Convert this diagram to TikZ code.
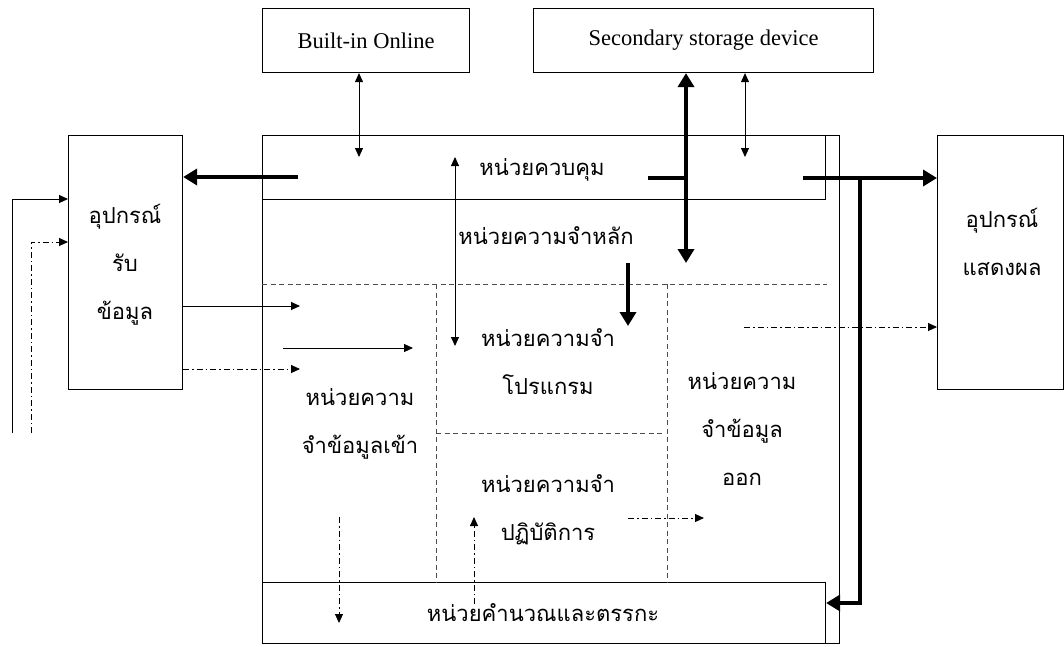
\documentclass[tikz,border=0pt]{standalone}
\usepackage{fontspec}
\setmainfont{Liberation Serif}
\newfontfamily\thai[Script=Thai]{Loma}
\usetikzlibrary{arrows.meta}
\begin{document}
\begin{tikzpicture}[x=1pt,y=-1pt,
  box/.style={draw, line width=1.1pt, inner sep=0pt, anchor=north west},
  th/.style={font=\thai\fontsize{22}{48}\selectfont, align=center, inner sep=0pt},
  en/.style={font=\fontsize{22.5}{26}\selectfont, inner sep=0pt},
  thinline/.style={line width=0.9pt},
  thinarrow/.style={line width=0.9pt, -{Triangle[length=9pt,width=8pt]}},
  thinboth/.style={line width=0.9pt, {Triangle[length=9pt,width=8pt]}-{Triangle[length=9pt,width=8pt]}},
  fatline/.style={line width=4.5pt},
  fatarrow/.style={line width=4.5pt, -{Triangle[length=14pt,width=16pt]}},
  fatboth/.style={line width=4.5pt, {Triangle[length=14pt,width=16pt]}-{Triangle[length=14pt,width=16pt]}},
  dd/.style={line width=0.9pt, dash pattern=on 6pt off 3pt on 1.5pt off 3pt},
  ddarrow/.style={dd, -{Triangle[length=9pt,width=8pt]}},
  part/.style={line width=0.9pt, draw=black!70, dash pattern=on 5pt off 3.5pt}
]
\useasboundingbox (0,0) rectangle (1064,646);

% boxes
\node[box, minimum width=207, minimum height=64] (builtin) at (262,8) {};
\node[box, minimum width=340, minimum height=64] (secondary) at (533,8) {};
\node[box, minimum width=577, minimum height=508] (main) at (262,135) {};
\node[box, minimum width=563, minimum height=64] (control) at (262,135) {};
\node[box, minimum width=563, minimum height=61] (alu) at (262,582) {};
\node[box, minimum width=114, minimum height=254] (input) at (68,135) {};
\node[box, minimum width=126, minimum height=254] (output) at (937,135) {};

% labels
\node[en] (tbuiltin) at (builtin.center) {Built-in Online};
\node[en] (tsecondary) at (secondary.center) {Secondary storage device};
\node[th] (tcontrol) at (542,170) {หน่วยควบคุม};
\node[th] (tmainmem) at (546,236) {หน่วยความจำหลัก};
\node[th] (tinput) at (125,265) {อุปกรณ์\\รับ\\ข้อมูล};
\node[th] (toutput) at (1002,242) {อุปกรณ์\\แสดงผล};
\node[th] (tinmem) at (360,424) {หน่วยความ\\จำข้อมูลเข้า};
\node[th] (tprog) at (548,362) {หน่วยความจำ\\โปรแกรม};
\node[th] (twork) at (548,510) {หน่วยความจำ\\ปฏิบัติการ};
\node[th] (toutmem) at (742,429) {หน่วยความ\\จำข้อมูล\\ออก};
\node[th] (talu) at (543,613) {หน่วยคำนวณและตรรกะ};

% partitions (dashed)
\coordinate (p1) at (262,284);
\coordinate (p2) at (827,284);
\coordinate (p3) at (436,284);
\coordinate (p4) at (436,582);
\coordinate (p5) at (667,284);
\coordinate (p6) at (667,582);
\coordinate (p7) at (436,433);
\coordinate (p8) at (663,433);
\draw[part] (p1) -- (p2);
\draw[part] (p3) -- (p4);
\draw[part] (p5) -- (p6);
\draw[part] (p7) -- (p8);

% top thin double arrows
\coordinate (b1) at (359,157);
\draw[thinboth] (builtin.south -| b1) -- (b1);
\coordinate (s1) at (745,157);
\draw[thinboth] (secondary.south -| s1) -- (s1);
% thick double arrow from secondary storage
\coordinate (s2) at (686,263);
\draw[fatboth] (secondary.south -| s2) -- (s2);
\coordinate (c1) at (648,178);
\coordinate (c2) at (686,178);
\draw[fatline] (c1) -- (c2);

% thick arrow to input device
\coordinate (c3) at (298,177);
\draw[fatarrow] (c3) -- (c3 -| input.east);

% thick arrow to output device and ALU
\coordinate (c4) at (803,178);
\coordinate (c5) at (860,178);
\coordinate (c6) at (860,603);
\draw[fatarrow] (c4) -- (c4 -| output.west);
\draw[fatarrow] (c5) -- (c6) -- (c6 -| alu.east);

% thick down arrow into program memory
\coordinate (m1) at (628,263);
\coordinate (m2) at (628,326);
\draw[fatarrow] (m1) -- (m2);

% thin double arrow main memory
\coordinate (m3) at (455,157);
\coordinate (m4) at (455,346);
\draw[thinboth] (m3) -- (m4);

% left feed lines
\coordinate (l1) at (12,433);
\coordinate (l2) at (12,199);
\draw[thinarrow] (l1) -- (l2) -- (l2 -| input.west);
\coordinate (l3) at (31,433);
\coordinate (l4) at (31,242);
\draw[ddarrow] (l3) -- (l4) -- (l4 -| input.west);

% input device arrows
\coordinate (i1) at (300,306);
\draw[thinarrow] (i1 -| input.east) -- (i1);
\coordinate (i2) at (300,369);
\draw[ddarrow] (i2 -| input.east) -- (i2);
\coordinate (i3) at (283,348);
\coordinate (i4) at (413,348);
\draw[thinarrow] (i3) -- (i4);

% dash-dot arrows
\coordinate (o1) at (744,327);
\draw[ddarrow] (o1) -- (o1 -| output.west);
\coordinate (w1) at (628,518);
\coordinate (w2) at (704,518);
\draw[ddarrow] (w1) -- (w2);
\coordinate (d1) at (339,517);
\coordinate (d2) at (339,623);
\draw[ddarrow] (d1) -- (d2);
\coordinate (u1) at (474,604);
\coordinate (u2) at (474,517);
\draw[ddarrow] (u1) -- (u2);
\end{tikzpicture}
\end{document}
